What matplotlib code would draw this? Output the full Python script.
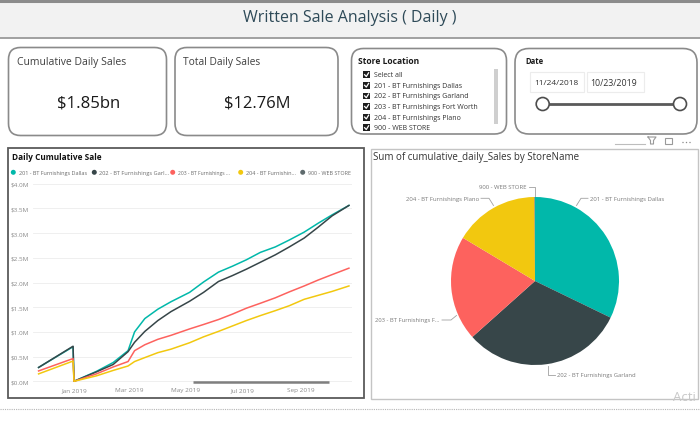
import matplotlib
matplotlib.use("Agg")
import matplotlib.pyplot as plt
import matplotlib.dates as mdates
from matplotlib.patches import FancyBboxPatch, Rectangle, Circle
import numpy as np
import datetime as dt

# ---------------- data ----------------
store_names = ["201 - BT Furnishings Dallas", "202 - BT Furnishings Garland",
               "203 - BT Furnishings Fort Worth", "204 - BT Furnishings Plano",
               "900 - WEB STORE"]
legend_labels = ["201 - BT Furnishings Dallas", "202 - BT Furnishings Garl...",
                 "203 - BT Furnishings ...", "204 - BT Furnishin...", "900 - WEB STORE"]
pie_labels = ["201 - BT Furnishings Dallas", "202 - BT Furnishings Garland",
              "203 - BT Furnishings F...", "204 - BT Furnishings Plano", "900 - WEB STORE"]
store_colors = ["#01B8AA", "#374649", "#FD625E", "#F2C80F", "#5F6B6D"]

dates = ["2018-11-24", "2018-12-31", "2019-01-01", "2019-01-25", "2019-02-12",
         "2019-02-28", "2019-03-07", "2019-03-18", "2019-04-01", "2019-04-15",
         "2019-05-05", "2019-05-20", "2019-06-05", "2019-06-20", "2019-07-05",
         "2019-07-20", "2019-08-05", "2019-08-20", "2019-09-05", "2019-09-20",
         "2019-10-05", "2019-10-23"]
# cumulative daily sales, $M
dallas = [0.28, 0.70, 0.00, 0.20, 0.38, 0.62, 1.00, 1.27, 1.46, 1.61, 1.80,
          2.01, 2.21, 2.33, 2.46, 2.61, 2.72, 2.86, 3.02, 3.20, 3.37, 3.56]
garland = [0.28, 0.71, 0.00, 0.19, 0.34, 0.60, 0.79, 1.01, 1.23, 1.41, 1.62,
           1.80, 2.02, 2.14, 2.27, 2.41, 2.56, 2.72, 2.90, 3.12, 3.35, 3.56]
fort_worth = [0.21, 0.46, 0.00, 0.15, 0.29, 0.40, 0.62, 0.74, 0.85, 0.93, 1.06,
              1.15, 1.25, 1.36, 1.48, 1.58, 1.69, 1.81, 1.93, 2.05, 2.16, 2.29]
plano = [0.15, 0.41, 0.00, 0.11, 0.22, 0.31, 0.40, 0.48, 0.58, 0.65, 0.78,
         0.90, 1.01, 1.12, 1.23, 1.33, 1.43, 1.53, 1.66, 1.74, 1.82, 1.93]
web_store = [np.nan] * 22  # no visible line in the chart

# sum of cumulative daily sales by store, $bn
pie_values = [0.596, 0.578, 0.374, 0.302, 0.002]
total_daily_sales_m = 12.76

y_ticks = [0.0, 0.5, 1.0, 1.5, 2.0, 2.5, 3.0, 3.5, 4.0]
x_ticks = ["2019-01-01", "2019-03-01", "2019-05-01", "2019-07-01", "2019-09-01"]
slicer_items = ["Select all"] + store_names

# ---------------- figure ----------------
W, H = 700, 435
fig = plt.figure(figsize=(7, 4.35), dpi=100)
fig.patch.set_facecolor("white")
plt.rcParams["font.family"] = ["Open Sans", "DejaVu Sans"]

bg = fig.add_axes([0, 0, 1, 1], zorder=0)
bg.set_xlim(0, W)
bg.set_ylim(H, 0)
bg.axis("off")
renderer = fig.canvas.get_renderer()


def txt(ax, x, y, s, width=None, size=8, ha="left", va="center", **kw):
    t = ax.text(x, y, s, fontsize=size, ha=ha, va=va, **kw)
    if width:
        w = t.get_window_extent(renderer).width
        t.set_fontsize(size * width / w)
    return t


def rbox(x0, y0, x1, y1, r=12, ec="#8a8a8a", lw=1.2, fc="white"):
    p = FancyBboxPatch((x0, y0), x1 - x0, y1 - y0,
                       boxstyle=f"round,pad=0,rounding_size={r}",
                       ec=ec, fc=fc, lw=lw)
    bg.add_patch(p)


# title bar
bg.add_patch(Rectangle((0, 2), W, 37, fc="#F2F2F2", ec="none"))
bg.plot([0, W], [1.5, 1.5], color="#8c8c8c", lw=2.2)
bg.plot([0, W], [38.5, 38.5], color="#9a9a9a", lw=1.3)
txt(bg, 350, 18.5, "Written Sale Analysis ( Daily )", width=214, size=14,
    ha="center", color="#2E4A58")

# KPI cards
rbox(8.5, 48.5, 166.5, 136.5)
rbox(175, 48.5, 338, 136.5)
txt(bg, 16.7, 62, "Cumulative Daily Sales", width=110, size=9, color="#3f3f3f")
txt(bg, 183.3, 63, "Total Daily Sales", width=78, size=9, color="#3f3f3f")
txt(bg, 88.3, 103.5, f"${sum(pie_values):.2f}bn", width=63, size=13,
    ha="center", color="#1a1a1a")
txt(bg, 257, 103.5, f"${total_daily_sales_m:.2f}M", width=66, size=13,
    ha="center", color="#1a1a1a")

# store location slicer
rbox(351.5, 49.5, 506.5, 135, r=12)
txt(bg, 358.3, 61.7, "Store Location", width=61, size=7, weight="bold", color="#1a1a1a")
row_y = [75.7, 86.3, 96.9, 107.5, 118.1, 128.7]
probe = bg.text(0, 0, "203 - BT Furnishings Fort Worth", fontsize=6)
item_size = 6 * 104 / probe.get_window_extent(renderer).width
probe.remove()
for yy, item in zip(row_y, slicer_items):
    bg.add_patch(Rectangle((363.3, yy - 3.4), 6.8, 6.8, fc="#1e1e1e", ec="none"))
    bg.plot([364.6, 366.3, 368.6], [yy, yy + 1.8, yy - 1.9], color="white", lw=0.9)
    bg.text(374, yy, item, fontsize=item_size, ha="left", va="center", color="#333333")
bg.add_patch(Rectangle((494, 70), 3.5, 55, fc="#cfcfcf", ec="none"))

# date slicer
rbox(515, 49.5, 697, 135, r=14)
txt(bg, 525, 61.7, "Date", width=18, size=7, weight="bold", color="#1a1a1a")
d_start = dt.datetime.strptime(dates[0], "%Y-%m-%d")
d_end = dt.datetime.strptime(dates[-1], "%Y-%m-%d")
bg.add_patch(Rectangle((530, 73), 54, 20, fc="none", ec="#ececec", lw=0.8))
bg.add_patch(Rectangle((587, 73), 56.5, 20, fc="none", ec="#ececec", lw=0.8))
txt(bg, 556.7, 83.3, d_start.strftime("%m/%d/%Y"), width=45, size=7,
    ha="center", color="#333333")
txt(bg, 614, 83.3, d_end.strftime("%m/%d/%Y"), width=46.6, size=7,
    ha="center", color="#333333")
bg.plot([542.7, 680], [105, 105], color="#5a5a5a", lw=2)
for cx in (542.7, 680):
    bg.add_patch(Circle((cx, 105), 6.5, fc="white", ec="#4d4d4d", lw=1.2, zorder=5))

# visual header icons
bg.plot([648, 656, 653.5, 653.5, 650.5, 650.5, 648], [138, 138, 141.5, 145, 145, 141.5, 138],
        color="#9a9a9a", lw=0.8)
bg.add_patch(Rectangle((665, 138.5), 7, 6.5, fc="none", ec="#9a9a9a", lw=0.8))
for dx in (683, 686.5, 690):
    bg.add_patch(Circle((dx, 143.5), 0.7, fc="#8a8a8a", ec="none"))
bg.plot([615, 645], [145, 145], color="#bdbdbd", lw=0.8)

# ---------------- line chart panel ----------------
bg.add_patch(Rectangle((8, 149), 356, 250, fc="white", ec="#5a5a5a", lw=1.3))
txt(bg, 11.7, 157.7, "Daily Cumulative Sale", width=90, size=8, weight="bold",
    color="#111111")
leg_dot_x = [13.3, 94.3, 172.7, 240.7, 302.7]
leg_txt_x = [19.3, 99, 177.7, 245.7, 308.3]
leg_txt_w = [69, 69, 52, 51, 43]
for c, dx, tx, tw, lab in zip(store_colors, leg_dot_x, leg_txt_x, leg_txt_w, legend_labels):
    bg.add_patch(Circle((dx, 173.3), 2.5, fc=c, ec="none"))
    txt(bg, tx, 173.3, lab, width=tw, size=4.5, color="#6b6b6b")

x0d = mdates.date2num(dt.datetime(2019, 1, 1))
px_per_day = 0.932
ax_l, ax_r, ax_t, ax_b = 33, 352, 180, 386
ax = fig.add_axes([ax_l / W, 1 - ax_b / H, (ax_r - ax_l) / W, (ax_b - ax_t) / H], zorder=2)
ax.set_facecolor("none")
ax.set_xlim(x0d - (74 - ax_l) / px_per_day, x0d + (ax_r - 74) / px_per_day)
ax.set_ylim((382.3 - ax_b) / 49.4, (382.3 - ax_t) / 49.4)
dnum = mdates.date2num([dt.datetime.strptime(d, "%Y-%m-%d") for d in dates])
for series, c in zip([web_store, dallas, garland, fort_worth, plano],
                     [store_colors[4]] + store_colors[:4]):
    ax.plot(dnum, series, color=c, lw=1.1, solid_joinstyle="round")
ax.set_yticks(y_ticks)
ax.set_yticklabels([f"${v:.1f}M" for v in y_ticks])
xt = mdates.date2num([dt.datetime.strptime(d, "%Y-%m-%d") for d in x_ticks])
ax.set_xticks(xt)
ax.set_xticklabels([dt.datetime.strptime(d, "%Y-%m-%d").strftime("%b %Y") for d in x_ticks])
ax.tick_params(length=0, labelsize=4.6, colors="#8a8a8a", pad=3)
ax.tick_params(axis="x", pad=1.5)
ax.grid(axis="y", color="#ececec", lw=0.6)
ax.set_axisbelow(True)
for s in ax.spines.values():
    s.set_visible(False)

# ---------------- pie panel ----------------
bg.add_patch(Rectangle((370.5, 150), 327, 250, fc="white", ec="#c4c4c4", lw=1))
txt(bg, 373.3, 158, "Sum of cumulative_daily_Sales by StoreName", width=208, size=7,
    color="#333333")
cx, cy, r = 535, 282, 84
pax = fig.add_axes([(cx - r) / W, 1 - (cy + r) / H, 2 * r / W, 2 * r / H], zorder=2)
pax.pie(pie_values, colors=store_colors, startangle=90, counterclock=False,
        radius=1, wedgeprops=dict(linewidth=0))
pax.set_xlim(-1, 1)
pax.set_ylim(-1, 1)
pax.set_aspect("equal")
pax.axis("off")

lead = "#a0a0a0"
label_specs = [
    # label index, text x, text y, ha, width, leader points
    (0, 590, 199.3, "left", 75, [(588, 199.3), (581, 199.3), (576.5, 206.5)]),
    (1, 556.7, 375.7, "left", 79, [(555, 375.7), (547.5, 375.7), (547.5, 366.5)]),
    (2, 375, 321, "left", 65, [(442, 321), (451, 321), (456.5, 316.5)]),
    (3, 479.3, 199.3, "right", 74, [(481, 199.3), (489, 199.3), (493.5, 206.5)]),
    (4, 526.7, 187.7, "right", 47.7, [(528.5, 187.7), (534.5, 187.7), (534.5, 197.5)]),
]
for i, tx, ty, ha, tw, pts in label_specs:
    txt(bg, tx, ty, pie_labels[i], width=tw, size=4.5, ha=ha, color="#7a7a7a")
    xs, ys = zip(*pts)
    bg.plot(xs, ys, color=lead, lw=0.6)

# overlay: scroll bar, page line, watermark
ov = fig.add_axes([0, 0, 1, 1], zorder=5)
ov.set_xlim(0, W)
ov.set_ylim(H, 0)
ov.axis("off")
ov.set_facecolor("none")
ov.plot([193, 329], [382.8, 382.8], color="#7f7f7f", lw=1.8, solid_capstyle="butt")
ov.plot([0, W], [410, 410], color="#b5b5b5", lw=0.8, ls=(0, (1, 1)))
ov.text(673, 398, "Acti", fontsize=9.5, color="#c8c8c8", ha="left", va="center", clip_on=False)

fig.savefig("out.png", dpi=100, facecolor="white")
